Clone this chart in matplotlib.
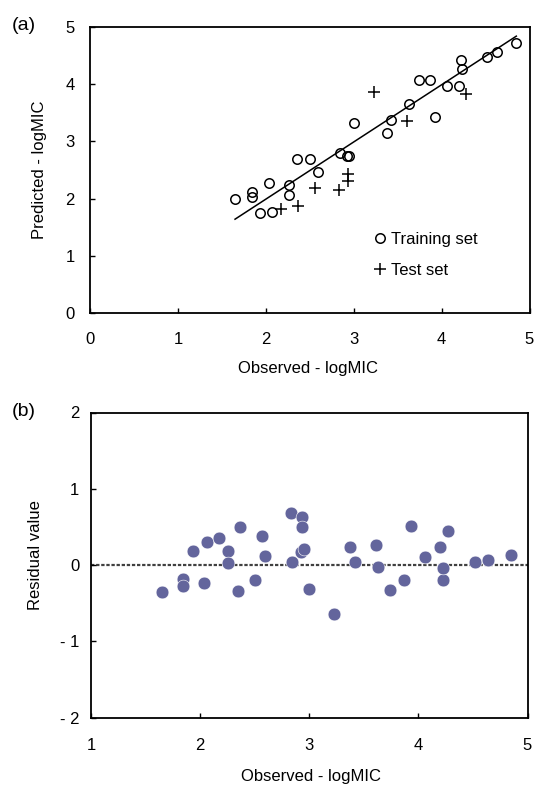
import matplotlib
matplotlib.use('Agg')
import matplotlib.pyplot as plt
import numpy as np
from matplotlib.lines import Line2D

plt.rcParams['font.family'] = ['Liberation Sans', 'DejaVu Sans']

# ---- data ----
train_obs = [1.65, 1.84, 1.84, 1.935, 2.04, 2.067, 2.26, 2.26, 2.35, 2.505,
             2.59, 2.845, 2.925, 2.95, 3.0, 3.375, 3.42, 3.63, 3.74, 3.87,
             3.93, 4.06, 4.2, 4.225, 4.23, 4.52, 4.635, 4.85]
train_pred = [2.0, 2.02, 2.11, 1.75, 2.28, 1.76, 2.07, 2.24, 2.69, 2.70,
              2.47, 2.80, 2.75, 2.74, 3.32, 3.14, 3.38, 3.65, 4.07, 4.07,
              3.42, 3.96, 3.96, 4.42, 4.27, 4.48, 4.57, 4.72]
test_obs = [2.17, 2.365, 2.565, 2.835, 2.93, 2.93, 3.23, 3.612, 4.275]
test_pred = [1.81, 1.87, 2.19, 2.15, 2.30, 2.43, 3.87, 3.35, 3.83]

fit_slope = 1.0
fit_intercept = -0.01

a_ticks = [0, 1, 2, 3, 4, 5]
b_xticks = [1, 2, 3, 4, 5]
b_yticks = [-2, -1, 0, 1, 2]
b_yticklabels = ['- 2', '- 1', '0', '1', '2']

legend_labels = ['Training set', 'Test set']
xlabel = 'Observed - logMIC'
ylabel_a = 'Predicted - logMIC'
ylabel_b = 'Residual value'

# ---- figure ----
W, H = 534, 785
fig = plt.figure(figsize=(W / 100, H / 100), dpi=100)

def rect(l, t, r, b):
    return [l / W, 1 - b / H, (r - l) / W, (b - t) / H]

FS = 12
ink = 'black'

def style(ax, xpad, ypad):
    for s in ax.spines.values():
        s.set_linewidth(1.3)
        s.set_color(ink)
    ax.tick_params(direction='in', length=3.5, width=1.0, labelsize=FS,
                   top=False, right=False)
    ax.tick_params(axis='x', pad=xpad)
    ax.tick_params(axis='y', pad=ypad)

# (a)
axA = fig.add_axes(rect(90, 27, 529.5, 313))
style(axA, 13.5, 11)
axA.set_xlim(0, 5)
axA.set_ylim(0, 5)
axA.set_xticks(a_ticks)
axA.set_yticks(a_ticks)
fx = np.array([min(train_obs), max(train_obs)])
axA.plot(fx, fit_slope * fx + fit_intercept, color=ink, lw=1.1, zorder=2)
axA.plot(train_obs, train_pred, 'o', ms=6.8, mfc='none', mec=ink, mew=1.1,
         zorder=3, clip_on=False)
axA.plot(test_obs, test_pred, '+', ms=8.5, mec=ink, mew=1.1, zorder=3)
axA.set_xlabel(xlabel, fontsize=FS)
axA.set_ylabel(ylabel_a, fontsize=FS)
axA.xaxis.set_label_coords(0.497, -0.167)
axA.yaxis.set_label_coords(-0.097, 0.5)
handles = [Line2D([], [], ls='none', marker='o', ms=6.8, mfc='none', mec=ink, mew=1.1),
           Line2D([], [], ls='none', marker='+', ms=8.5, mec=ink, mew=1.1)]
axA.legend(handles, legend_labels, loc='upper left', bbox_to_anchor=(0.649, 0.283),
           frameon=False, fontsize=FS, handlelength=0.6, handletextpad=0.35,
           labelspacing=0.97, borderpad=0, borderaxespad=0)
fig.text(12 / W, 1 - 25 / H, '(a)', fontsize=14, va='center', ha='left')

# (b)
residuals = np.array(train_obs + test_obs) - np.array(train_pred + test_pred)
obs_all = train_obs + test_obs
axB = fig.add_axes(rect(91, 412.5, 527.5, 717.5))
style(axB, 14.5, 8.5)
axB.set_xlim(1, 5)
axB.set_ylim(-2, 2)
axB.set_xticks(b_xticks)
axB.set_yticks(b_yticks)
axB.set_yticklabels(b_yticklabels)
axB.axhline(0, color='#404040', lw=1.6, ls=(0, (1.5, 0.8)), zorder=1)
axB.plot(obs_all, residuals, 'o', ms=9.2, mfc='#63659c', mec='white', mew=0.4,
         zorder=3)
axB.set_xlabel(xlabel, fontsize=FS)
axB.set_ylabel(ylabel_b, fontsize=FS)
axB.xaxis.set_label_coords(0.505, -0.169)
axB.yaxis.set_label_coords(-0.109, 0.533)
fig.text(12 / W, 1 - 411 / H, '(b)', fontsize=14, va='center', ha='left')

fig.savefig('out.png', dpi=100)
